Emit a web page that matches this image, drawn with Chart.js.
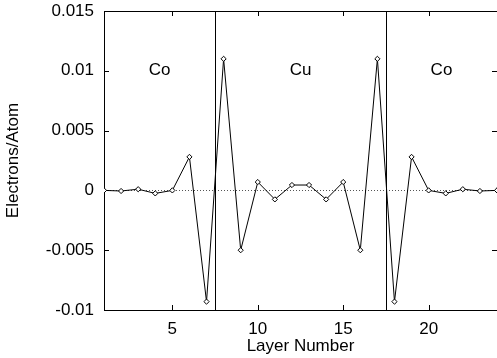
<!DOCTYPE html>
<html>
<head>
<meta charset="utf-8">
<script src="https://cdn.jsdelivr.net/npm/chart.js@4.4.0/dist/chart.umd.min.js"></script>
<style>
html, body { margin: 0; padding: 0; background: #fff; overflow: hidden; }
#wrap { width: 502px; height: 358px; }
</style>
</head>
<body>
<div id="wrap"><canvas id="layerChart"></canvas></div>
<script>
// layer index and charge per layer
const layers = [1, 2, 3, 4, 5, 6, 7, 8, 9, 10, 11, 12, 13, 14, 15, 16, 17, 18, 19, 20, 21, 22, 23, 24];
const electrons = [0, -0.00005, 0.0001, -0.00025, 0, 0.0028, -0.0093, 0.011, -0.005, 0.0007,
	-0.00075, 0.00045, 0.00045, -0.00075, 0.0007, -0.005, 0.011, -0.0093, 0.0028, 0,
	-0.00025, 0.0001, -0.00005, 0];
const xTicks = [5, 10, 15, 20];
const yTicks = [-0.01, -0.005, 0, 0.005, 0.01, 0.015];
const interfaces = [7.5, 17.5];
const regionNames = ['Co', 'Cu', 'Co'];

const FONT = 'Liberation Sans, Arial, Helvetica, sans-serif';

// frame, inward ticks on all four sides, interfaces, zero line and region names
let decor = {
	id: 'decor',
	beforeDatasetsDraw(chart) {
		let ctx = chart.ctx;
		let a = chart.chartArea;
		let xs = chart.scales.x, ys = chart.scales.y;
		ctx.save();
		// dotted zero line
		ctx.strokeStyle = '#555';
		ctx.lineWidth = 1;
		ctx.setLineDash([1, 2]);
		let y0 = Math.round(ys.getPixelForValue(0)) + 0.5;
		ctx.beginPath();
		ctx.moveTo(a.left, y0);
		ctx.lineTo(a.right, y0);
		ctx.stroke();
		ctx.setLineDash([]);
		// interfaces
		ctx.strokeStyle = '#000';
		interfaces.forEach(v => {
			let px = Math.round(xs.getPixelForValue(v)) + 0.5;
			ctx.beginPath();
			ctx.moveTo(px, a.top);
			ctx.lineTo(px, a.bottom);
			ctx.stroke();
		});
		// frame
		ctx.strokeRect(a.left + 0.5, a.top + 0.5, a.right - a.left, a.bottom - a.top);
		// ticks
		let len = 5;
		ctx.beginPath();
		xTicks.forEach(v => {
			let px = Math.round(xs.getPixelForValue(v)) + 0.5;
			ctx.moveTo(px, a.bottom); ctx.lineTo(px, a.bottom - len);
			ctx.moveTo(px, a.top); ctx.lineTo(px, a.top + len);
		});
		yTicks.forEach(v => {
			let py = Math.round(ys.getPixelForValue(v)) + 0.5;
			ctx.moveTo(a.left, py); ctx.lineTo(a.left + len, py);
			ctx.moveTo(a.right, py); ctx.lineTo(a.right - len, py);
		});
		ctx.stroke();
		// region names, centred between interfaces
		let bounds = [xs.min].concat(interfaces, [xs.max]);
		ctx.fillStyle = '#000';
		ctx.font = '17px ' + FONT;
		ctx.textAlign = 'center';
		ctx.textBaseline = 'middle';
		regionNames.forEach((name, i) => {
			let mid = (bounds[i] + bounds[i + 1]) / 2;
			ctx.fillText(name, xs.getPixelForValue(mid), ys.getPixelForValue(0.01));
		});
		ctx.restore();
	}
};

new Chart('layerChart', {
	type: 'line',
	data: {
		labels: layers,
		datasets: [{
			data: layers.map((l, i) => ({ x: l, y: electrons[i] })),
			borderColor: '#000',
			borderWidth: 1,
			tension: 0,
			pointStyle: 'rectRot',
			pointRadius: 2.6,
			pointBorderWidth: 1,
			pointBackgroundColor: '#fff',
			pointBorderColor: '#000'
		}]
	},
	options: {
		responsive: true,
		maintainAspectRatio: false,
		animation: false,
		events: [],
		layout: { padding: { top: 11, right: 2, bottom: 0, left: 0 } },
		plugins: { legend: { display: false }, tooltip: { enabled: false } },
		scales: {
			x: {
				type: 'linear',
				min: 1,
				max: 24,
				afterBuildTicks: s => { s.ticks = xTicks.map(v => ({ value: v })); },
				afterFit: s => { s.height = 48; s.paddingLeft = 0; s.paddingRight = 0; },
				grid: { display: false, drawTicks: false },
				border: { display: false },
				ticks: { color: '#000', padding: 9, font: { family: FONT, size: 17 } },
				title: { display: true, text: 'Layer Number', color: '#000', padding: { top: 0, bottom: 1 }, font: { family: FONT, size: 17 } }
			},
			y: {
				min: -0.01,
				max: 0.015,
				afterBuildTicks: s => { s.ticks = yTicks.map(v => ({ value: v })); },
				afterFit: s => { s.width = 104; s.paddingTop = 0; s.paddingBottom = 0; },
				grid: { display: false, drawTicks: false },
				border: { display: false },
				ticks: {
					color: '#000', padding: 10, font: { family: FONT, size: 17 },
					callback: v => String(+v.toFixed(3))
				},
				title: { display: true, text: 'Electrons/Atom', color: '#000', padding: { top: 3, bottom: 0 }, font: { family: FONT, size: 17 } }
			}
		}
	},
	plugins: [decor]
});
</script>
</body>
</html>
